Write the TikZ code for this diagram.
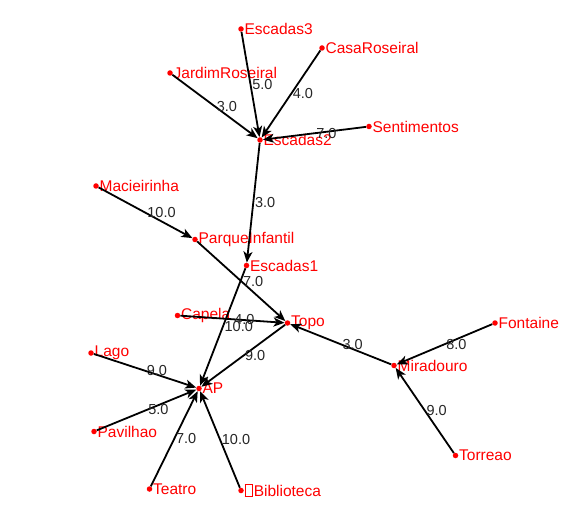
\documentclass[tikz,border=0pt]{standalone}
\usepackage{fontspec}
\setmainfont{Liberation Sans}
\usetikzlibrary{arrows.meta}
\newcommand{\nochar}{{\fboxsep=0pt\fboxrule=0.8pt\fbox{\rule{0pt}{11pt}\hspace{6.5pt}}}\hspace{1pt}}

\begin{document}
\begin{tikzpicture}[x=1pt,y=-1pt,
          every node/.style={font=\fontsize{15.5}{18}\selectfont},
          place/.style={circle,fill=red,inner sep=0pt,minimum size=5.5pt,
                        label={[text=red,inner sep=0.5pt,label distance=0pt]right:#1}},
          wt/.style={anchor=west,inner sep=1pt,text=black!85,
                     font=\fontsize{14.5}{17}\selectfont},
          arr/.style={-{Stealth[length=11pt,width=9pt,inset=3pt]}, line width=1.8pt}
      ]
        \useasboundingbox (0,0) rectangle (586,521);

        \node[place=Escadas3] (escadas3) at (241,29) {};
        \node[place=CasaRoseiral] (casaroseiral) at (322,48) {};
        \node[place=JardimRoseiral] (jardimroseiral) at (170,73) {};
        \node[place=Sentimentos] (sentimentos) at (369,126.5) {};
        \node[place=Escadas2] (escadas2) at (260,140) {};
        \node[place=Macieirinha] (macieirinha) at (96,186) {};
        \node[place=ParqueInfantil] (parqueinfantil) at (195,239.5) {};
        \node[place=Escadas1] (escadas1) at (246.5,265.5) {};
        \node[place=Capela] (capela) at (177.5,315.5) {};
        \node[place=Topo] (topo) at (287.5,323) {};
        \node[place=Fontaine] (fontaine) at (495,323) {};
        \node[place=Miradouro] (miradouro) at (394,365.5) {};
        \node[place=Lago] (lago) at (91,353) {};
        \node[place=AP] (ap) at (199,388.5) {};
        \node[place=Pavilhao] (pavilhao) at (94,431.5) {};
        \node[place=Torreao] (torreao) at (455.5,455.5) {};
        \node[place=Teatro] (teatro) at (149.5,489) {};
        \node[place={\nochar Biblioteca}] (biblioteca) at (241,490.5) {};

        \draw[arr] (escadas3) -- node[wt]{5.0} (escadas2);
        \draw[arr] (casaroseiral) -- node[wt]{4.0} (escadas2);
        \draw[arr] (jardimroseiral) -- node[wt]{3.0} (escadas2);
        \draw[arr] (sentimentos) -- node[wt]{7.0} (escadas2);
        \draw[arr] (escadas2) -- node[wt]{3.0} (escadas1);
        \draw[arr] (macieirinha) -- node[wt]{10.0} (parqueinfantil);
        \draw[arr] (parqueinfantil) -- node[wt]{7.0} (topo);
        \draw[arr] (escadas1) -- node[wt]{10.0} (ap);
        \draw[arr] (capela) -- node[wt]{4.0} (topo);
        \draw[arr] (topo) -- node[wt]{9.0} (ap);
        \draw[arr] (miradouro) -- node[wt]{3.0} (topo);
        \draw[arr] (fontaine) -- node[wt]{8.0} (miradouro);
        \draw[arr] (torreao) -- node[wt]{9.0} (miradouro);
        \draw[arr] (lago) -- node[wt]{9.0} (ap);
        \draw[arr] (pavilhao) -- node[wt]{5.0} (ap);
        \draw[arr] (teatro) -- node[wt]{7.0} (ap);
        \draw[arr] (biblioteca) -- node[wt]{10.0} (ap);
      \end{tikzpicture}
\end{document}
